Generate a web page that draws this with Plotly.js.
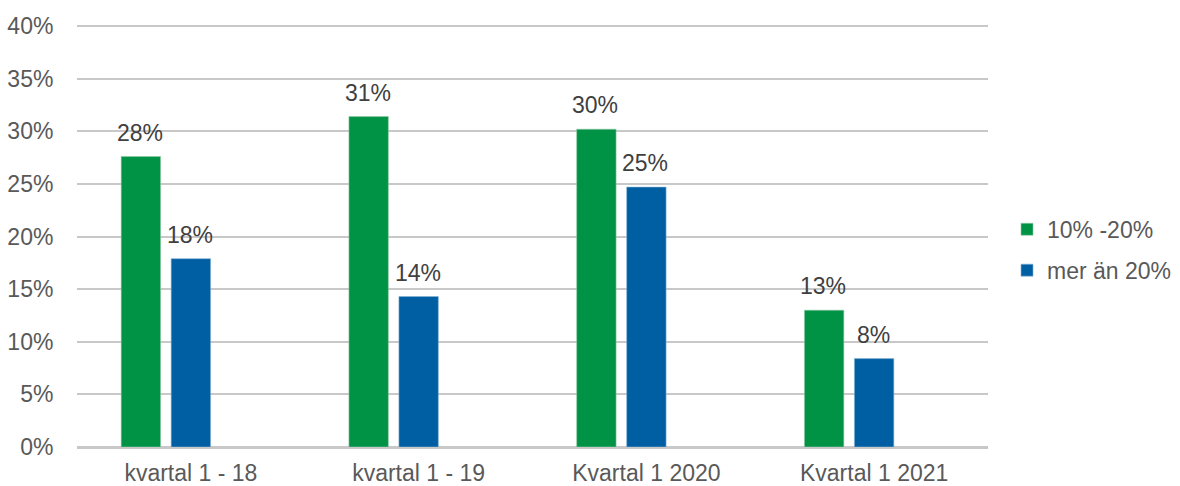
<!DOCTYPE html>
<html><head><meta charset="utf-8">
<script src="https://cdn.plot.ly/plotly-3.0.1.min.js"></script>
<style>html,body{margin:0;padding:0;background:#fff}#c{width:1180px;height:486px}</style>
</head><body><div id="c"></div>
<script>
const categories = ["kvartal 1 - 18", "kvartal 1 - 19", "Kvartal 1 2020", "Kvartal 1 2021"];
const seriesNames = ["10% -20%", "mer än 20%"];
const green = [0.276, 0.314, 0.302, 0.130];
const blue = [0.179, 0.143, 0.247, 0.084];
const yTicks = [0, 0.05, 0.10, 0.15, 0.20, 0.25, 0.30, 0.35, 0.40];

const FONT = "Liberation Sans, Arial, sans-serif";
const FS = 23;
const common = {type: "bar", x: categories, width: 0.173, hoverinfo: "skip"};
const data = [
  Object.assign({}, common, {name: seriesNames[0], y: green, offset: -0.306, legendgroup: "a",
    marker: {color: "#009245", line: {color: "#8fc9a5", width: 0.6}}}),
  Object.assign({}, common, {name: seriesNames[1], y: blue, offset: -0.0865, legendgroup: "b",
    marker: {color: "#005ea2", line: {color: "#86b3d6", width: 0.6}}})
];
const annotations = [];
[[green, -50], [blue, 0]].forEach(([vals, dx]) => {
  vals.forEach((v, i) => {
    annotations.push({x: categories[i], y: v, xref: "x", yref: "y", text: Math.round(v * 100) + "%",
      showarrow: false, yanchor: "bottom", xanchor: "center", xshift: dx - 1, yshift: 9,
      font: {family: FONT, size: FS, color: "#404040"}});
  });
});
const layout = {
  width: 1180, height: 486,
  margin: {l: 77, r: 192, t: 24, b: 39},
  paper_bgcolor: "#fff", plot_bgcolor: "#fff",
  font: {family: FONT, size: FS, color: "#595959"},
  barmode: "group",
  showlegend: true,
  annotations: annotations,
  legend: {xref: "container", yref: "container", x: 0.8534, xanchor: "left", y: 0.486, yanchor: "middle",
    traceorder: "grouped", tracegroupgap: 8, itemwidth: 30, font: {size: FS, color: "#595959"}},
  xaxis: {type: "category", showgrid: false, showline: true, linecolor: "#c8c8c8", linewidth: 2,
    ticks: "outside", ticklen: 4, tickcolor: "rgba(0,0,0,0)", tickfont: {size: FS, color: "#595959"}},
  yaxis: {range: [0, 0.402], tickvals: yTicks, tickformat: ".0%", showgrid: true,
    gridcolor: "#c8c8c8", gridwidth: 2, zeroline: true, zerolinecolor: "#c8c8c8", zerolinewidth: 2,
    showline: false, ticks: "outside", ticklen: 18, tickcolor: "rgba(0,0,0,0)",
    tickfont: {size: FS, color: "#595959"}}
};
Plotly.newPlot("c", data, layout, {displayModeBar: false, staticPlot: true});
</script></body></html>
